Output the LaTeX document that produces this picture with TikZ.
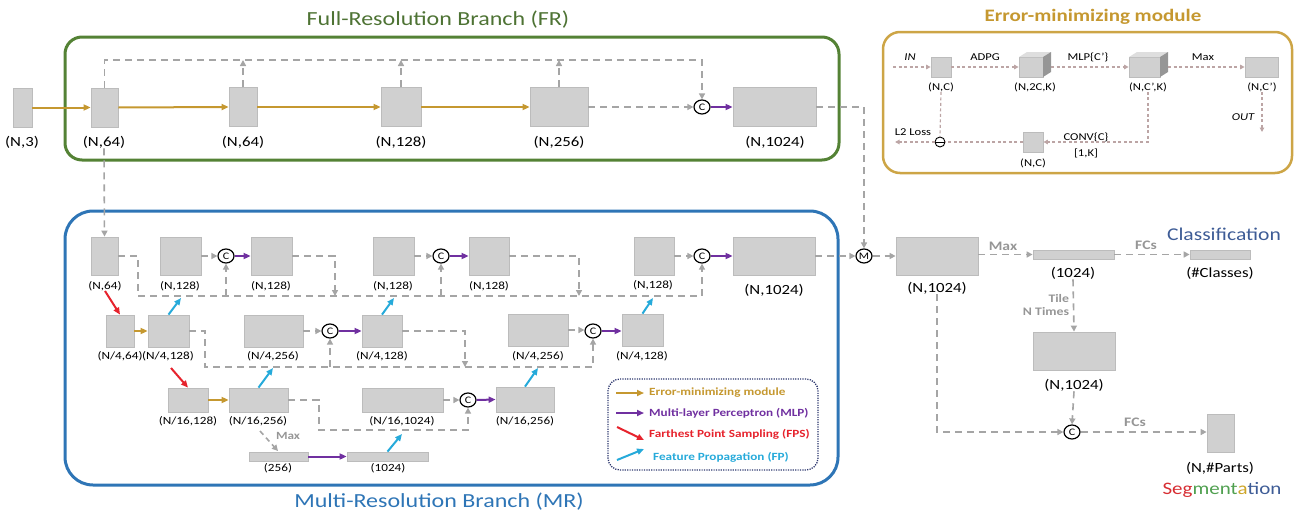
\documentclass[tikz,border=0pt]{standalone}
\usepackage{fontspec}
\setmainfont{Carlito}[FakeStretch=1.2]
\usetikzlibrary{arrows.meta,shapes.geometric}

\definecolor{boxfill}{RGB}{208,208,208}
\definecolor{boxline}{RGB}{188,188,188}
\definecolor{dashgray}{RGB}{165,165,165}
\definecolor{emorange}{RGB}{197,152,48}
\definecolor{emframe}{RGB}{205,165,70}
\definecolor{mlppurple}{RGB}{112,48,160}
\definecolor{fpsred}{RGB}{230,35,45}
\definecolor{fpcyan}{RGB}{38,170,218}
\definecolor{frgreen}{RGB}{84,130,53}
\definecolor{frtext}{RGB}{78,115,52}
\definecolor{mrblue}{RGB}{46,117,182}
\definecolor{legnavy}{RGB}{45,55,110}
\definecolor{clsblue}{RGB}{62,92,150}
\definecolor{segred}{RGB}{215,45,50}
\definecolor{seggreen}{RGB}{80,160,80}
\definecolor{seggold}{RGB}{205,165,40}
\definecolor{emline}{RGB}{188,165,165}
\definecolor{labgray}{RGB}{150,150,150}
\definecolor{cubetop}{RGB}{222,222,222}
\definecolor{cubeside}{RGB}{150,150,150}

\newcommand\sz[1]{\fontsize{#1}{#1}\selectfont}

\begin{document}
\begin{tikzpicture}[x=1pt,y=-1pt,
  blk/.style={draw=boxline, fill=boxfill, line width=0.8pt, inner sep=0pt},
  bsize/.style 2 args={minimum width=#1, minimum height=#2},
  lab/.style={inner sep=0pt, font=\sz{14}},
  slab/.style={inner sep=0pt, font=\sz{11}},
  elab/.style={inner sep=0pt, font=\sz{10.5}},
  glab/.style={inner sep=0pt, font=\sz{13}\bfseries, text=labgray},
  gd/.style={draw=dashgray, line width=1.6pt, dash pattern=on 7pt off 5pt},
  gda/.style={gd, -{Triangle[length=6pt,width=6pt]}},
  emd/.style={draw=emline, line width=1.2pt, dash pattern=on 3pt off 2.5pt},
  emda/.style={emd, -{Triangle[length=4.5pt,width=4.5pt]}},
  emar/.style={draw=emorange, line width=2pt, -{Triangle[length=7pt,width=6pt]}},
  mlpar/.style={draw=mlppurple, line width=2pt, -{Triangle[length=7pt,width=6pt]}},
  fpsar/.style={draw=fpsred, line width=2pt, -{Triangle[length=7pt,width=6pt]}},
  fpar/.style={draw=fpcyan, line width=2pt, -{Triangle[length=7pt,width=6pt]}},
  cat/.style={ellipse, draw=black, line width=1.2pt, fill=white, minimum width=16pt,
              minimum height=14pt, inner sep=0pt, font=\sz{10}},
  legtext/.style={anchor=west, inner sep=0pt, font=\sz{11}\bfseries}
]
\useasboundingbox (0,0) rectangle (1296,514);

% ---------- frames ----------
\node[draw=frgreen, line width=3pt, rounded corners=17pt, bsize={774}{123}] (frframe) at (452,98.5) {};
\node[text=frtext, font=\sz{20}, inner sep=0pt] (frtitle) at (438,20) {Full-Resolution Branch (FR)};
\node[draw=mrblue, line width=3pt, rounded corners=28pt, bsize={773}{274}] (mrframe) at (451.5,348) {};
\node[text=mrblue, font=\sz{20}, inner sep=0pt] (mrtitle) at (439,502) {Multi-Resolution Branch (MR)};
\node[draw=emframe, line width=2.5pt, rounded corners=17pt, bsize={409}{141}] (emframe) at (1087.5,102.5) {};
\node[text=emorange, font=\sz{17.5}\bfseries, inner sep=0pt] (emtitle) at (1093,17) {Error-minimizing module};

% ---------- full-resolution branch ----------
\node[blk, bsize={19}{39}] (in3) at (22.5,107.5) {};
\node[lab] (lin3) at (22,142) {(N,3)};
\node[blk, bsize={27}{39}] (fr1) at (104.5,107.5) {};
\node[lab] (lfr1) at (104,142) {(N,64)};
\node[blk, bsize={28}{39}] (fr2) at (243,107) {};
\node[lab] (lfr2) at (243,142) {(N,64)};
\node[blk, bsize={40}{39}] (fr3) at (401,107) {};
\node[lab] (lfr3) at (401,142) {(N,128)};
\node[blk, bsize={58}{39}] (fr4) at (559,107) {};
\node[lab] (lfr4) at (559,142) {(N,256)};
\node[cat] (C0) at (702,107) {C};
\node[blk, bsize={83}{39}] (fr5) at (774.5,107) {};
\node[lab] (lfr5) at (775,142) {(N,1024)};
\coordinate (frt) at (0,60);

\draw[emar] (in3.east) -- (fr1.west);
\draw[emar] (fr1.east) -- (fr2.west);
\draw[emar] (fr2.east) -- (fr3.west);
\draw[emar] (fr3.east) -- (fr4.west);
\draw[gda] (fr1.north) -- (fr1.north |- frt) -| (C0.north);
\draw[gda] (fr2.north) -- (fr2.north |- frt);
\draw[gda] (fr3.north) -- (fr3.north |- frt);
\draw[gda] (fr4.north) -- (fr4.north |- frt);
\draw[gda] (fr4.east) -- (C0.west);
\draw[mlpar] (C0.east) -- (fr5.west);

% ---------- multi-resolution branch, row 1 ----------
\node[blk, bsize={27}{38}] (m1) at (104.5,256) {};
\node[slab] (lm1) at (105,286) {(N,64)};
\node[blk, bsize={41}{38}] (ra) at (180.5,256) {};
\node[slab] (lra) at (180,286) {(N,128)};
\node[cat] (C1) at (226,256) {C};
\node[blk, bsize={41}{38}] (rb) at (271.5,256) {};
\node[slab] (lrb) at (271,286) {(N,128)};
\node[blk, bsize={41}{38}] (rc) at (393.5,256) {};
\node[slab] (lrc) at (393,286) {(N,128)};
\node[cat] (C2) at (441,256) {C};
\node[blk, bsize={40}{38}] (rd) at (489,256) {};
\node[slab] (lrd) at (489,286) {(N,128)};
\node[blk, bsize={40}{38}] (re) at (654,256) {};
\node[slab] (lre) at (653,285) {(N,128)};
\node[cat] (C3) at (702,256) {C};
\node[blk, bsize={82}{38}] (rf) at (774,256) {};
\node[lab] (lrf) at (774,290) {(N,1024)};
\node[cat] (M) at (864,256) {M};

\coordinate (b1s) at (138,296);
\coordinate (tapb) at (335,296);
\coordinate (tapd) at (579,296);
\draw[gda] (lfr1.south) -- (m1.north);
\draw[gda] (m1.east) -| (b1s) -| (C3.south);
\draw[gda] (C1.south |- b1s) -- (C1.south);
\draw[gda] (C2.south |- b1s) -- (C2.south);
\draw[gda] (rb.east) -| (tapb);
\draw[gda] (rd.east) -| (tapd);
\draw[gda] (ra.east) -- (C1.west);
\draw[mlpar] (C1.east) -- (rb.west);
\draw[gda] (rc.east) -- (C2.west);
\draw[mlpar] (C2.east) -- (rd.west);
\draw[gda] (re.east) -- (C3.west);
\draw[mlpar] (C3.east) -- (rf.west);
\draw[gda] (rf.east) -- (M.west);
\draw[gda] (fr5.east) -| (M.north);

% ---------- row 2 ----------
\node[blk, bsize={28}{32}] (p) at (120,331) {};
\node[slab] (lp) at (120,356) {(N/4,64)};
\node[blk, bsize={41}{32}] (rg) at (168.5,331) {};
\node[slab] (lrg) at (168,356) {(N/4,128)};
\node[blk, bsize={59}{32}] (rh) at (273.5,331) {};
\node[slab] (lrh) at (273,356) {(N/4,256)};
\node[cat] (C4) at (330,331) {C};
\node[blk, bsize={40}{32}] (ri) at (382,331) {};
\node[slab] (lri) at (382,356) {(N/4,128)};
\node[blk, bsize={60}{32}] (rj) at (538,330) {};
\node[slab] (lrj) at (538,356) {(N/4,256)};
\node[cat] (C5) at (593,331) {C};
\node[blk, bsize={41}{32}] (rk) at (642.5,330) {};
\node[slab] (lrk) at (642,356) {(N/4,128)};

\coordinate (b2s) at (205,367);
\coordinate (tapi) at (465,367);
\coordinate (fpg) at (181,298);
\coordinate (fpi) at (394,298);
\coordinate (fpk) at (653,298);
\draw[fpsar] (lm1.south) -- (p.north);
\draw[emar] (p.east) -- (rg.west);
\draw[fpar] (rg.north) -- (fpg);
\draw[fpar] (ri.north) -- (fpi);
\draw[fpar] (rk.north) -- (fpk);
\draw[gda] (rg.east) -| (b2s) -| (C5.south);
\draw[gda] (C4.south |- b2s) -- (C4.south);
\draw[gda] (ri.east) -| (tapi);
\draw[gda] (rh.east) -- (C4.west);
\draw[mlpar] (C4.east) -- (ri.west);
\draw[gda] (rj.east) -- (rj.east -| C5.west);
\draw[mlpar] (C5.east) -- (C5.east -| rk.west);

% ---------- row 3 ----------
\node[blk, bsize={40}{24}] (q) at (188,400) {};
\node[slab] (lq) at (188,421) {(N/16,128)};
\node[blk, bsize={59}{24}] (rl) at (258.5,400) {};
\node[slab] (lrl) at (258,421) {(N/16,256)};
\node[blk, bsize={81}{24}] (rm) at (402.5,400) {};
\node[slab] (lrm) at (402,421) {(N/16,1024)};
\node[cat] (C6) at (468,400) {C};
\node[blk, bsize={58}{25}] (rn) at (525,399.5) {};
\node[slab] (lrn) at (525,421) {(N/16,256)};
\node[blk, bsize={59}{9}] (bs) at (278.5,456.5) {};
\node[slab] (lbs) at (278,468) {(256)};
\node[blk, bsize={81}{9}] (bt) at (387.5,456.5) {};
\node[slab] (lbt) at (388,468) {(1024)};
\node[inner sep=0pt, font=\sz{11}\bfseries, text=labgray] (mmax) at (288,436) {Max};

\coordinate (red2) at (171,368);
\coordinate (b3s) at (319,430);
\coordinate (fpl) at (273,368);
\coordinate (fpn) at (538,368);
\coordinate (fpt) at (402,434);
\coordinate (maxs) at (260,431);
\coordinate (maxe) at (278,451);
\draw[fpsar] (red2) -- (q.north);
\draw[emar] (q.east) -- (rl.west);
\draw[fpar] (rl.north) -- (fpl);
\draw[fpar] (rn.north) -- (fpn);
\draw[fpar] (bt.north) -- (fpt);
\draw[gda] (rl.east) -| (b3s) -| (C6.south);
\draw[gda] (rm.east) -- (C6.west);
\draw[mlpar] (C6.east) -- (rn.west);
\draw[draw=dashgray, line width=1.6pt, dash pattern=on 5pt off 4pt,
      -{Triangle[length=6pt,width=6pt]}] (maxs) -- (maxe);
\draw[mlpar] (bs.east) -- (bt.west);

% ---------- legend ----------
\node[draw=legnavy, line width=1.3pt, dash pattern=on 1.2pt off 1.2pt,
      rounded corners=12pt, bsize={210}{91}] (legend) at (713,424.5) {};
\coordinate (le1a) at (616,393); \coordinate (le1b) at (644,393);
\coordinate (le2a) at (616,413); \coordinate (le2b) at (644,413);
\coordinate (le3a) at (617,427); \coordinate (le3b) at (644,440);
\coordinate (le4a) at (617,460); \coordinate (le4b) at (644,449);
\draw[emar] (le1a) -- (le1b);
\draw[mlpar] (le2a) -- (le2b);
\draw[fpsar] (le3a) -- (le3b);
\draw[fpar] (le4a) -- (le4b);
\node[legtext, text=emorange] (lt1) at (649,393) {Error-minimizing module};
\node[legtext, text=mlppurple] (lt2) at (649,413) {Multi-layer Perceptron (MLP)};
\node[legtext, text=fpsred] (lt3) at (649,434) {Farthest Point Sampling (FPS)};
\node[legtext, text=fpcyan] (lt4) at (653,457) {Feature Propagation (FP)};

% ---------- heads ----------
\node[blk, bsize={82}{38}] (R1) at (937,256) {};
\node[lab] (lR1) at (937,288) {(N,1024)};
\node[blk, bsize={81}{9}] (bu) at (1073.5,254.5) {};
\node[lab] (lbu) at (1073,273) {(1024)};
\node[blk, bsize={60}{9}] (bv) at (1220,254.5) {};
\node[lab] (lbv) at (1220,273) {(\#Classes)};
\node[inner sep=0pt, font=\sz{18}, text=clsblue] (cls) at (1224,234) {Classification};
\node[glab] (rmax) at (1003,246) {Max};
\node[glab] (fc1) at (1146,245) {FCs};
\node[inner sep=0pt, font=\sz{11.5}\bfseries, text=labgray, align=right] (tile) at (1046,305) {Tile\\[2pt]N Times};
\node[blk, bsize={82}{38}] (R2) at (1074,351) {};
\node[lab] (lR2) at (1074,385) {(N,1024)};
\node[cat] (C7) at (1072,432) {C};
\node[glab] (fc2) at (1135,422) {FCs};
\node[blk, bsize={27}{38}] (P) at (1220.5,433) {};
\node[lab] (lP) at (1220,468) {(N,\#Parts)};
\node[inner sep=0pt, font=\sz{17.5}] (seg) at (1222,490)
  {\textcolor{segred}{Seg}\textcolor{seggreen}{ment}\textcolor{seggold}{a}\textcolor{clsblue}{tion}};

\draw[gda] (M.east) -- (R1.west);
\draw[gda] (R1.east |- bu.west) -- (bu.west);
\draw[gda] (bu.east) -- (bv.west);
\draw[gda] (lbu.south) -- (R2.north);
\draw[gda] (lR2.south) -- (C7.north);
\draw[gda] (lR1.south) |- (C7.west);
\draw[gda] (C7.east) -- (C7.east -| P.west);

% ---------- error-minimizing module ----------
\node[blk, bsize={20}{20}] (e1) at (941,67) {};
\node[elab] (le1) at (941,87) {(N,C)};
\node[blk, bsize={24}{20}] (e2) at (1031,67) {};
\fill[cubetop] (1019,57) -- (1027,52) -- (1051,52) -- (1043,57) -- cycle;
\fill[cubeside] (1043,57) -- (1051,52) -- (1051,72) -- (1043,77) -- cycle;
\node[elab] (le2) at (1035,87) {(N,2C,K)};
\node[blk, bsize={31}{20}] (e3) at (1144.5,67) {};
\fill[cubetop] (1129,57) -- (1137,52) -- (1168,52) -- (1160,57) -- cycle;
\fill[cubeside] (1160,57) -- (1168,52) -- (1168,72) -- (1160,77) -- cycle;
\node[elab] (le3) at (1148,87) {(N,C’,K)};
\node[blk, bsize={33}{20}] (e4) at (1261.5,67) {};
\node[elab] (le4) at (1262,87) {(N,C’)};
\node[blk, bsize={20}{20}] (e5) at (1033,142) {};
\node[elab] (le5) at (1033,163) {(N,C)};
\node[circle, draw=black, line width=0.9pt, minimum size=10pt, inner sep=0pt] (emminus) at (940,142) {};
\draw[black, line width=0.9pt] (emminus.west) -- (emminus.east);

\node[elab, font=\sz{10.5}\itshape] (tin) at (910,57) {IN};
\node[elab] (tadpg) at (985,57) {ADPG};
\node[elab] (tmlp) at (1088,57) {MLP\{C’\}};
\node[elab] (tmax) at (1203,57) {Max};
\node[elab, font=\sz{10.5}\itshape] (tout) at (1243,117) {OUT};
\node[elab] (tconv) at (1086,137) {CONV\{C\}};
\node[elab] (tk) at (1086,153) {[1,K]};
\node[elab] (tl2) at (913,132) {L2 Loss};

\coordinate (ein) at (893,67);
\coordinate (eout) at (1262,132);
\coordinate (el2) at (895,142);
\coordinate (ecorner) at (1148,142);
\draw[emda] (ein) -- (e1.west);
\draw[emda] (e1.east) -- (e2.west);
\draw[emda] (1051,67) -- (e3.west);
\draw[emda] (1168,67) -- (e4.west);
\draw[emda] (le4.south) -- (eout);
\draw[emda] (le3.south) -- (ecorner) -- (e5.east);
\draw[emd] (e5.west) -- (emminus.east);
\draw[emd] (le1.south) -- (emminus.north);
\draw[emda] (emminus.west) -- (el2);
\end{tikzpicture}
\end{document}
